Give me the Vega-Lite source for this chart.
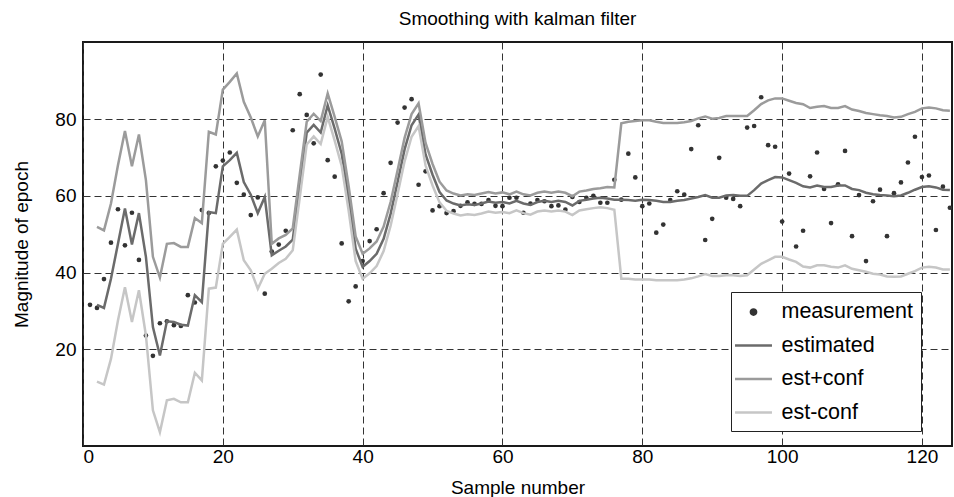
{
  "$schema": "https://vega.github.io/schema/vega-lite/v6.json",
  "width": 869,
  "height": 404,
  "autosize": {"type": "none"},
  "padding": {"left": 83, "top": 42, "right": 2, "bottom": 51},
  "background": "white",
  "title": {"text": "Smoothing with kalman filter", "fontSize": 19, "font": "Liberation Sans", "fontWeight": "normal", "color": "black", "offset": 13, "anchor": "middle"},
  "config": {
    "view": {"stroke": "#1a1a1a", "strokeWidth": 2},
    "font": "Liberation Sans",
    "axis": {
      "labelFont": "Liberation Sans", "labelFontSize": 19, "labelColor": "black",
      "titleFont": "Liberation Sans", "titleFontSize": 19, "titleFontWeight": "normal", "titleColor": "black",
      "domain": false, "grid": true, "gridColor": "#333333", "gridDash": [7, 4], "gridWidth": 1, "gridOpacity": 1,
      "ticks": false
    },
    "legend": {
      "orient": "none", "legendX": 648, "legendY": 250, "title": null,
      "labelFont": "Liberation Sans", "labelFontSize": 21.5, "labelColor": "black",
      "symbolSize": 441, "symbolStrokeWidth": 2.5, "symbolOffset": 2.5,
      "padding": 8, "rowPadding": 10.5, "labelOffset": 16,
      "strokeColor": "#222222", "fillColor": "white", "cornerRadius": 0
    }
  },
  "data": {"values": [
    {"s":1,"measurement":31.6},
    {"s":2,"measurement":30.8,"estimated":31.6,"est+conf":51.9,"est-conf":11.6},
    {"s":3,"measurement":38.3,"estimated":30.8,"est+conf":51.0,"est-conf":10.8},
    {"s":4,"measurement":47.8,"estimated":38.4,"est+conf":58.0,"est-conf":17.5},
    {"s":5,"measurement":56.5,"estimated":47.5,"est+conf":68.0,"est-conf":27.5},
    {"s":6,"measurement":47.1,"estimated":56.7,"est+conf":76.9,"est-conf":36.2},
    {"s":7,"measurement":55.6,"estimated":47.3,"est+conf":67.7,"est-conf":27.1},
    {"s":8,"measurement":43.3,"estimated":55.5,"est+conf":76.0,"est-conf":35.4},
    {"s":9,"measurement":23.6,"estimated":44.1,"est+conf":64.1,"est-conf":23.6},
    {"s":10,"measurement":18.3,"estimated":25.8,"est+conf":44.1,"est-conf":4.1},
    {"s":11,"measurement":26.8,"estimated":18.4,"est+conf":38.7,"est-conf":-1.6},
    {"s":12,"measurement":27.3,"estimated":27.3,"est+conf":47.5,"est-conf":6.7},
    {"s":13,"measurement":26.3,"estimated":27.1,"est+conf":47.7,"est-conf":7.1},
    {"s":14,"measurement":26.1,"estimated":26.4,"est+conf":46.7,"est-conf":6.2},
    {"s":15,"measurement":34.1,"estimated":26.2,"est+conf":46.7,"est-conf":6.2},
    {"s":16,"measurement":32.2,"estimated":34.1,"est+conf":54.2,"est-conf":13.9},
    {"s":17,"measurement":56.3,"estimated":32.3,"est+conf":52.9,"est-conf":11.9},
    {"s":18,"measurement":55.5,"estimated":55.8,"est+conf":76.7,"est-conf":35.8},
    {"s":19,"measurement":67.7,"estimated":55.5,"est+conf":76.0,"est-conf":36.1},
    {"s":20,"measurement":69.2,"estimated":67.7,"est+conf":87.7,"est-conf":47.5},
    {"s":21,"measurement":71.3,"estimated":69.3,"est+conf":89.7,"est-conf":49.3},
    {"s":22,"measurement":63.4,"estimated":71.2,"est+conf":91.9,"est-conf":51.2},
    {"s":23,"measurement":60.3,"estimated":63.6,"est+conf":84.5,"est-conf":43.2},
    {"s":24,"measurement":55.0,"estimated":60.3,"est+conf":80.4,"est-conf":40.6},
    {"s":25,"measurement":59.6,"estimated":55.5,"est+conf":75.5,"est-conf":35.8},
    {"s":26,"measurement":34.5,"estimated":59.7,"est+conf":79.7,"est-conf":39.7},
    {"s":27,"measurement":45.5,"estimated":44.5,"est+conf":47.5,"est-conf":41.0},
    {"s":28,"measurement":47.3,"estimated":45.7,"est+conf":48.9,"est-conf":42.5},
    {"s":29,"measurement":50.9,"estimated":46.8,"est+conf":49.8,"est-conf":43.6},
    {"s":30,"measurement":77.1,"estimated":48.6,"est+conf":51.5,"est-conf":45.8},
    {"s":31,"measurement":86.5,"estimated":62.5,"est+conf":65.5,"est-conf":59.5},
    {"s":32,"measurement":81.1,"estimated":76.5,"est+conf":79.3,"est-conf":73.4},
    {"s":33,"measurement":73.7,"estimated":78.5,"est+conf":81.4,"est-conf":75.5},
    {"s":34,"measurement":91.6,"estimated":76.5,"est+conf":79.5,"est-conf":73.5},
    {"s":35,"measurement":69.3,"estimated":83.6,"est+conf":86.7,"est-conf":80.6},
    {"s":36,"measurement":65.0,"estimated":77.5,"est+conf":80.6,"est-conf":74.4},
    {"s":37,"measurement":47.6,"estimated":71.0,"est+conf":74.2,"est-conf":67.8},
    {"s":38,"measurement":32.5,"estimated":59.3,"est+conf":62.5,"est-conf":56.1},
    {"s":39,"measurement":36.4,"estimated":46.2,"est+conf":49.4,"est-conf":43.0},
    {"s":40,"measurement":43.0,"estimated":41.5,"est+conf":44.9,"est-conf":38.4},
    {"s":41,"measurement":48.2,"estimated":43.0,"est+conf":46.3,"est-conf":39.8},
    {"s":42,"measurement":51.3,"estimated":44.9,"est+conf":48.1,"est-conf":41.7},
    {"s":43,"measurement":60.7,"estimated":48.8,"est+conf":52.0,"est-conf":45.6},
    {"s":44,"measurement":68.6,"estimated":55.3,"est+conf":58.4,"est-conf":52.2},
    {"s":45,"measurement":79.1,"estimated":63.6,"est+conf":66.7,"est-conf":60.5},
    {"s":46,"measurement":83.0,"estimated":72.1,"est+conf":75.1,"est-conf":69.0},
    {"s":47,"measurement":85.2,"estimated":78.4,"est+conf":81.3,"est-conf":75.4},
    {"s":48,"measurement":62.9,"estimated":81.2,"est+conf":84.1,"est-conf":78.2},
    {"s":49,"measurement":66.4,"estimated":70.8,"est+conf":73.8,"est-conf":67.9},
    {"s":50,"measurement":56.2,"estimated":65.5,"est+conf":68.3,"est-conf":62.7},
    {"s":51,"measurement":57.3,"estimated":61.0,"est+conf":63.7,"est-conf":58.3},
    {"s":52,"measurement":55.5,"estimated":58.8,"est+conf":61.4,"est-conf":56.1},
    {"s":53,"measurement":56.0,"estimated":58.0,"est+conf":60.6,"est-conf":55.4},
    {"s":54,"measurement":57.4,"estimated":57.5,"est+conf":60.1,"est-conf":54.9},
    {"s":55,"measurement":58.3,"estimated":57.8,"est+conf":60.4,"est-conf":55.2},
    {"s":56,"measurement":57.9,"estimated":57.6,"est+conf":60.2,"est-conf":55.0},
    {"s":57,"measurement":57.9,"estimated":58.0,"est+conf":60.6,"est-conf":55.4},
    {"s":58,"measurement":58.9,"estimated":58.5,"est+conf":61.0,"est-conf":55.9},
    {"s":59,"measurement":57.4,"estimated":58.2,"est+conf":60.6,"est-conf":55.6},
    {"s":60,"measurement":57.3,"estimated":58.4,"est+conf":60.9,"est-conf":55.8},
    {"s":61,"measurement":59.5,"estimated":58.0,"est+conf":60.4,"est-conf":55.5},
    {"s":62,"measurement":59.5,"estimated":58.7,"est+conf":61.1,"est-conf":56.2},
    {"s":63,"measurement":55.6,"estimated":58.0,"est+conf":60.4,"est-conf":55.5},
    {"s":64,"measurement":58.0,"estimated":57.6,"est+conf":60.1,"est-conf":55.1},
    {"s":65,"measurement":58.9,"estimated":58.4,"est+conf":60.8,"est-conf":55.9},
    {"s":66,"measurement":58.6,"estimated":58.7,"est+conf":61.1,"est-conf":56.2},
    {"s":67,"measurement":57.3,"estimated":58.4,"est+conf":60.8,"est-conf":55.9},
    {"s":68,"measurement":57.5,"estimated":58.7,"est+conf":61.1,"est-conf":56.2},
    {"s":69,"measurement":56.4,"estimated":58.4,"est+conf":60.8,"est-conf":55.9},
    {"s":70,"measurement":59.7,"estimated":57.5,"est+conf":59.9,"est-conf":55.0},
    {"s":71,"measurement":58.4,"estimated":58.7,"est+conf":61.1,"est-conf":56.2},
    {"s":72,"measurement":59.5,"estimated":59.0,"est+conf":61.4,"est-conf":56.5},
    {"s":73,"measurement":60.0,"estimated":59.3,"est+conf":61.8,"est-conf":56.8},
    {"s":74,"measurement":58.2,"estimated":59.5,"est+conf":62.0,"est-conf":57.0},
    {"s":75,"measurement":58.2,"estimated":59.3,"est+conf":62.3,"est-conf":56.8},
    {"s":76,"measurement":64.2,"estimated":59.0,"est+conf":62.2,"est-conf":56.4},
    {"s":77,"measurement":59.0,"estimated":59.0,"est+conf":78.9,"est-conf":38.4},
    {"s":78,"measurement":71.0,"estimated":58.9,"est+conf":79.3,"est-conf":38.4},
    {"s":79,"measurement":64.8,"estimated":58.7,"est+conf":79.5,"est-conf":38.2},
    {"s":80,"measurement":57.3,"estimated":59.0,"est+conf":79.7,"est-conf":38.2},
    {"s":81,"measurement":58.0,"estimated":58.9,"est+conf":79.7,"est-conf":38.2},
    {"s":82,"measurement":50.4,"estimated":58.7,"est+conf":79.3,"est-conf":38.0},
    {"s":83,"measurement":52.5,"estimated":58.4,"est+conf":79.0,"est-conf":38.0},
    {"s":84,"measurement":58.9,"estimated":58.4,"est+conf":79.0,"est-conf":38.0},
    {"s":85,"measurement":61.2,"estimated":58.7,"est+conf":79.0,"est-conf":38.0},
    {"s":86,"measurement":60.3,"estimated":58.9,"est+conf":79.2,"est-conf":38.2},
    {"s":87,"measurement":72.2,"estimated":59.3,"est+conf":79.5,"est-conf":38.5},
    {"s":88,"measurement":78.4,"estimated":59.7,"est+conf":80.2,"est-conf":39.0},
    {"s":89,"measurement":48.5,"estimated":60.2,"est+conf":80.7,"est-conf":39.6},
    {"s":90,"measurement":54.0,"estimated":59.5,"est+conf":80.1,"est-conf":39.1},
    {"s":91,"measurement":69.9,"estimated":59.5,"est+conf":80.3,"est-conf":39.1},
    {"s":92,"measurement":59.5,"estimated":60.1,"est+conf":80.8,"est-conf":39.3},
    {"s":93,"measurement":59.2,"estimated":60.2,"est+conf":80.8,"est-conf":39.3},
    {"s":94,"measurement":57.3,"estimated":60.0,"est+conf":80.8,"est-conf":39.1},
    {"s":95,"measurement":77.8,"estimated":60.0,"est+conf":80.8,"est-conf":39.3},
    {"s":96,"measurement":78.2,"estimated":61.5,"est+conf":82.3,"est-conf":40.8},
    {"s":97,"measurement":85.7,"estimated":63.2,"est+conf":83.9,"est-conf":42.3},
    {"s":98,"measurement":73.2,"estimated":64.1,"est+conf":84.9,"est-conf":43.2},
    {"s":99,"measurement":72.8,"estimated":64.9,"est+conf":85.4,"est-conf":44.1},
    {"s":100,"measurement":53.3,"estimated":64.8,"est+conf":85.4,"est-conf":44.1},
    {"s":101,"measurement":65.8,"estimated":64.1,"est+conf":84.8,"est-conf":43.4},
    {"s":102,"measurement":46.8,"estimated":63.4,"est+conf":84.2,"est-conf":42.8},
    {"s":103,"measurement":50.9,"estimated":62.5,"est+conf":83.9,"est-conf":41.6},
    {"s":104,"measurement":65.1,"estimated":62.2,"est+conf":82.9,"est-conf":41.3},
    {"s":105,"measurement":71.3,"estimated":62.7,"est+conf":83.2,"est-conf":41.9},
    {"s":106,"measurement":61.8,"estimated":62.3,"est+conf":83.4,"est-conf":41.9},
    {"s":107,"measurement":52.9,"estimated":62.3,"est+conf":82.9,"est-conf":41.5},
    {"s":108,"measurement":63.0,"estimated":62.7,"est+conf":82.9,"est-conf":41.3},
    {"s":109,"measurement":71.7,"estimated":62.7,"est+conf":83.4,"est-conf":41.9},
    {"s":110,"measurement":49.5,"estimated":61.8,"est+conf":82.5,"est-conf":41.0},
    {"s":111,"measurement":60.2,"estimated":61.5,"est+conf":82.1,"est-conf":40.6},
    {"s":112,"measurement":43.0,"estimated":60.8,"est+conf":81.6,"est-conf":40.2},
    {"s":113,"measurement":58.6,"estimated":60.4,"est+conf":81.3,"est-conf":39.7},
    {"s":114,"measurement":61.6,"estimated":60.2,"est+conf":81.0,"est-conf":39.5},
    {"s":115,"measurement":49.5,"estimated":60.1,"est+conf":80.8,"est-conf":39.0},
    {"s":116,"measurement":60.7,"estimated":59.9,"est+conf":80.4,"est-conf":38.9},
    {"s":117,"measurement":63.5,"estimated":60.1,"est+conf":80.6,"est-conf":39.0},
    {"s":118,"measurement":68.7,"estimated":60.8,"est+conf":81.3,"est-conf":39.7},
    {"s":119,"measurement":75.4,"estimated":61.6,"est+conf":81.9,"est-conf":40.4},
    {"s":120,"measurement":64.9,"estimated":62.3,"est+conf":82.8,"est-conf":41.3},
    {"s":121,"measurement":65.3,"estimated":62.5,"est+conf":83.0,"est-conf":41.5},
    {"s":122,"measurement":51.1,"estimated":62.2,"est+conf":82.8,"est-conf":41.3},
    {"s":123,"measurement":62.4,"estimated":61.6,"est+conf":82.3,"est-conf":40.8},
    {"s":124,"measurement":56.9,"estimated":61.5,"est+conf":82.2,"est-conf":40.8}
  ]},
  "transform": [
    {"fold": ["measurement", "estimated", "est+conf", "est-conf"], "as": ["series", "v"]},
    {"filter": "isValid(datum.v)"}
  ],
  "encoding": {
    "x": {"field": "s", "type": "quantitative", "scale": {"domain": [0, 124.3], "nice": false, "zero": false},
      "axis": {"values": [0, 20, 40, 60, 80, 100, 120], "title": "Sample number", "labelPadding": 1, "titlePadding": 12}},
    "y": {"field": "v", "type": "quantitative", "scale": {"domain": [-5.2, 100.1], "nice": false, "zero": false},
      "axis": {"values": [20, 40, 60, 80], "title": "Magnitude of epoch", "labelPadding": 7, "titlePadding": 23}},
    "color": {"field": "series", "type": "nominal",
      "scale": {"domain": ["measurement", "estimated", "est+conf", "est-conf"], "range": ["#333333", "#6b6b6b", "#9b9b9b", "#c6c6c6"]},
      "legend": {
        "encode": {"symbols": {"update": {
          "shape": {"signal": "datum.value === 'measurement' ? 'M-0.25,0A0.25,0.25,0,1,0,0.25,0A0.25,0.25,0,1,0,-0.25,0Z' : 'M-1.76,0H1.76'"},
          "size": {"value": 441},
          "fill": {"signal": "datum.value === 'measurement' ? '#333333' : 'transparent'"},
          "stroke": {"signal": "datum.value === 'measurement' ? 'transparent' : (datum.value === 'estimated' ? '#6b6b6b' : (datum.value === 'est+conf' ? '#9b9b9b' : '#c6c6c6'))"},
          "strokeWidth": {"value": 2.5},
          "opacity": {"value": 1}
        }}}
      }}
  },
  "layer": [
    {"transform": [{"filter": "datum.series === 'measurement'"}],
     "mark": {"type": "point", "filled": true, "size": 22, "opacity": 1, "clip": true}},
    {"transform": [{"filter": "datum.series !== 'measurement'"}],
     "mark": {"type": "line", "strokeWidth": 2.5, "clip": true}}
  ]
}
